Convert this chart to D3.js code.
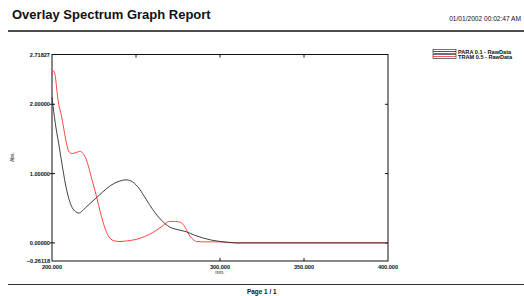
<!DOCTYPE html>
<html>
<head>
<meta charset="utf-8"/>
<title>Overlay Spectrum Graph Report</title>
<style>
  body { margin: 0; background: #fff; }
  text { font-family: "Liberation Sans", Arial, sans-serif; fill: #111; }
  .tick-label { font-size: 5.6px; }
</style>
</head>
<body>
<svg width="524" height="296"></svg>
<script src="https://d3js.org/d3.v7.min.js"></script>
<script>
// PARA 0.1 - RawData (wavelength nm, absorbance)
var paraNm  = [200, 202, 204, 206, 208, 210, 212, 214, 216, 218, 220, 225, 230, 235, 240, 244, 248, 252, 256, 260, 265, 270, 275, 280, 285, 290, 295, 300, 305, 310, 350, 400];
var paraAbs = [2.10, 1.72, 1.43, 1.13, 0.85, 0.64, 0.51, 0.45, 0.43, 0.46, 0.51, 0.62, 0.73, 0.83, 0.89, 0.91, 0.88, 0.78, 0.63, 0.48, 0.33, 0.23, 0.19, 0.16, 0.11, 0.07, 0.04, 0.02, 0.005, 0, 0, 0];

// TRAM 0.5 - RawData
var tramNm  = [200, 201, 202, 203, 204, 205.5, 207, 208.5, 210, 212, 214, 216.5, 218.5, 220.5, 222.5, 224.5, 226.5, 228.5, 230.5, 232.5, 234.5, 237, 240.5, 245, 250, 255, 260, 265, 270, 273, 276, 278, 280, 282, 284, 286, 290, 300, 305, 310, 400];
var tramAbs = [2.43, 2.48, 2.40, 2.18, 2.00, 1.85, 1.65, 1.45, 1.32, 1.29, 1.30, 1.32, 1.29, 1.20, 1.03, 0.85, 0.67, 0.47, 0.29, 0.15, 0.07, 0.03, 0.02, 0.03, 0.05, 0.09, 0.15, 0.23, 0.31, 0.31, 0.30, 0.27, 0.19, 0.10, 0.05, 0.02, 0.015, 0.015, 0.01, 0, 0];

var yTicks = [2.71827, 2.0, 1.0, 0.0, -0.26118];
var xLabelTicks = [200, 300, 350, 400];
var xTopTicks = [250, 300, 350];
var seriesNames = ["PARA 0.1 - RawData", "TRAM 0.5 - RawData"];
var seriesColors = ["#2a2a2a", "#ff3030"];

var svg = d3.select("svg");

// header
svg.append("text").attr("x", 12).attr("y", 19)
  .style("font-size", "13px").style("font-weight", "bold")
  .text("Overlay Spectrum Graph Report");
svg.append("text").attr("x", 521).attr("y", 21).attr("text-anchor", "end")
  .style("font-size", "6.6px")
  .text("01/01/2002  00:02:47 AM");
svg.append("line").attr("x1", 8).attr("x2", 524).attr("y1", 31).attr("y2", 31)
  .attr("stroke", "#111").attr("stroke-width", 1.4);
svg.append("line").attr("x1", 8).attr("x2", 524).attr("y1", 284.5).attr("y2", 284.5)
  .attr("stroke", "#333").attr("stroke-width", 1.2);
svg.append("text").attr("x", 247).attr("y", 294)
  .style("font-size", "6.4px").style("font-weight", "bold")
  .text("Page 1 / 1");

// plot area
var x = d3.scaleLinear().domain([200, 400]).range([52, 388]);
var y = d3.scaleLinear().domain([-0.26118, 2.71827]).range([261, 54.5]);

var plot = svg.append("g");
plot.append("rect")
  .attr("x", x(200)).attr("y", y(2.71827))
  .attr("width", x(400) - x(200)).attr("height", y(-0.26118) - y(2.71827))
  .attr("fill", "none").attr("stroke", "#111").attr("stroke-width", 1);

// left ticks and labels
yTicks.forEach(function(v, i) {
  var inner = i > 0 && i < yTicks.length - 1;
  if (inner) {
    plot.append("line").attr("x1", x(200) - 2).attr("x2", x(200) + 3)
      .attr("y1", y(v)).attr("y2", y(v)).attr("stroke", "#111").attr("stroke-width", 1);
    plot.append("line").attr("x1", x(400) - 3).attr("x2", x(400))
      .attr("y1", y(v)).attr("y2", y(v)).attr("stroke", "#111").attr("stroke-width", 1);
  }
  plot.append("text").attr("class", "tick-label")
    .attr("x", x(200) - 2).attr("y", y(v) + 2)
    .attr("text-anchor", "end").style("font-weight", "bold")
    .text(d3.format(".5f")(v));
});

xTopTicks.forEach(function(v) {
  plot.append("line").attr("x1", x(v)).attr("x2", x(v))
    .attr("y1", y(2.71827)).attr("y2", y(2.71827) + 3).attr("stroke", "#111");
});
xTopTicks.slice(1).forEach(function(v) {
  plot.append("line").attr("x1", x(v)).attr("x2", x(v))
    .attr("y1", y(-0.26118) - 3).attr("y2", y(-0.26118)).attr("stroke", "#111");
});
xLabelTicks.forEach(function(v) {
  plot.append("text").attr("class", "tick-label")
    .attr("x", x(v)).attr("y", 268.5).attr("text-anchor", "middle")
    .style("font-weight", "bold")
    .text(d3.format(".3f")(v));
});
plot.append("text").attr("class", "tick-label")
  .attr("x", x(300)).attr("y", 274).attr("text-anchor", "middle")
  .text("nm.");
plot.append("text").attr("class", "tick-label")
  .attr("transform", "translate(14,157) rotate(-90)")
  .attr("text-anchor", "middle").style("font-size", "5px")
  .text("Abs.");

// curves
var line = d3.line()
  .x(function(d) { return x(d[0]); })
  .y(function(d) { return y(d[1]); })
  .curve(d3.curveMonotoneX);

var tramData = d3.zip(tramNm, tramAbs);
var paraData = d3.zip(paraNm, paraAbs);

plot.append("path").datum(tramData).attr("d", line)
  .attr("fill", "none").attr("stroke", seriesColors[1]).attr("stroke-width", 0.9);
plot.append("path").datum(paraData).attr("d", line)
  .attr("fill", "none").attr("stroke", seriesColors[0]).attr("stroke-width", 0.9);

// legend
var legend = svg.append("g");
seriesNames.forEach(function(name, i) {
  var ly = 49.5 + i * 5;
  legend.append("rect").attr("x", 433).attr("y", ly).attr("width", 23).attr("height", 4)
    .attr("fill", "#fff").attr("stroke", "#333").attr("stroke-width", 0.7);
  legend.append("line").attr("x1", 433).attr("x2", 456).attr("y1", ly + 2).attr("y2", ly + 2)
    .attr("stroke", seriesColors[i]).attr("stroke-width", 0.8);
  legend.append("text").attr("x", 458).attr("y", ly + 4)
    .style("font-size", "5.6px").style("font-weight", "bold")
    .text(name);
});
</script>
</body>
</html>
